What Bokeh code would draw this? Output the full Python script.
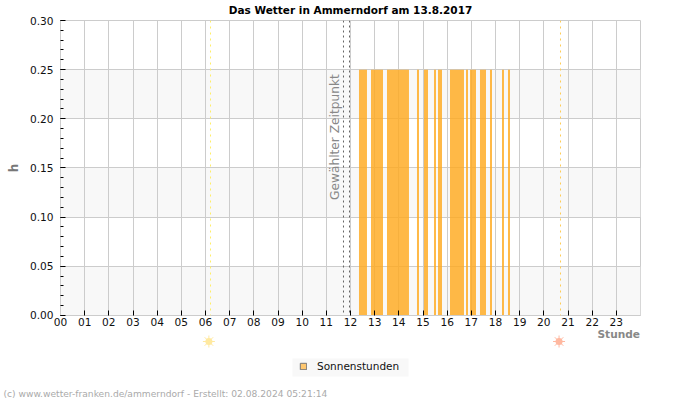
from bokeh.embed import file_html
from bokeh.layouts import column, row
from bokeh.resources import INLINE
from bokeh.plotting import figure
from bokeh.models import (ColumnDataSource, FixedTicker, Label, Legend, LegendItem,
                          Range1d, Span)

# Sonnenschein-Abschnitte in Dezimalstunden
sun_start = [12.351, 12.848, 13.510, 14.751, 15.041, 15.455, 15.620, 16.117, 16.779, 16.945, 17.358, 17.772, 18.269, 18.517]
sun_end = [12.682, 13.345, 14.420, 14.834, 15.207, 15.538, 15.786, 16.696, 16.862, 17.193, 17.607, 17.855, 18.351, 18.600]
sun_value = [0.25] * len(sun_start)

hours = list(range(24))
hour_labels = [f"{h:02d}" for h in hours]
y_ticks = [0.0, 0.05, 0.10, 0.15, 0.20, 0.25, 0.30]
y_minor = [round(i * 0.01, 2) for i in range(31)]

selected_time = [11.710, 11.959]
sunrise = 6.207
sunset = 20.690
sunrise_icon = 6.14
sunset_icon = 20.63

WIDTH = 700
HEAD_HEIGHT = 14
MAIN_HEIGHT = 316
FOOT_HEIGHT = 76
FOOT_OVERLAP = 6
px_per_hour = 580 / 24


def plain_panel(height, x_range):
    """Leere Zeichenfläche ohne Achsen für Kopf und Fuß."""
    panel = figure(width=WIDTH, height=height, output_backend="svg", toolbar_location=None,
                   x_range=x_range, y_range=Range1d(0, height),
                   x_axis_type=None, y_axis_type=None, outline_line_color=None,
                   min_border_left=0, min_border_right=0, min_border_top=0, min_border_bottom=0,
                   background_fill_color=None, border_fill_color=None)
    panel.grid.visible = False
    return panel


def px(x):
    """Waagerechte Pixelposition in Stunden der Fußleiste."""
    return (x - 60) / px_per_hour


# Kopfzeile mit Titel
head = plain_panel(HEAD_HEIGHT, Range1d(px(0), px(WIDTH)))
head.add_layout(Label(x=px(350), y=5, text="Das Wetter in Ammerndorf am 13.8.2017",
                      text_align="center", text_baseline="middle", text_font="DejaVu Sans",
                      text_font_style="bold", text_font_size="10.5px", text_color="black"))

# Hauptdiagramm
p = figure(width=WIDTH, height=MAIN_HEIGHT, output_backend="svg", toolbar_location=None,
           x_range=Range1d(0, 24), y_range=Range1d(-0.00001, 0.30),
           min_border_left=60, min_border_right=60, min_border_top=6, min_border_bottom=15,
           background_fill_color="white", border_fill_color="white",
           outline_line_color="#cccccc", outline_line_width=1)

p.xaxis.ticker = FixedTicker(ticks=hours)
p.xaxis.major_label_overrides = {h: s for h, s in zip(hours, hour_labels)}
p.yaxis.ticker = FixedTicker(ticks=y_ticks, minor_ticks=y_minor)
p.yaxis.major_label_overrides = {v: f"{v:.2f}" for v in y_ticks}
for ax in (p.xaxis[0], p.yaxis[0]):
    ax.axis_line_color = "#cccccc"
    ax.major_tick_line_color = "black"
    ax.major_tick_in = 5
    ax.major_tick_out = 0
    ax.major_label_text_font = "DejaVu Sans"
    ax.major_label_text_font_size = "10.6px"
    ax.major_label_text_color = "#111111"
p.xaxis.minor_tick_line_color = None
p.xaxis.major_label_standoff = 2
p.yaxis.minor_tick_line_color = "black"
p.yaxis.minor_tick_in = 3
p.yaxis.minor_tick_out = 0
p.yaxis.major_label_standoff = 7
p.yaxis.axis_label = "h"
p.yaxis.axis_label_text_font = "DejaVu Sans"
p.yaxis.axis_label_text_font_style = "bold"
p.yaxis.axis_label_text_font_size = "12px"
p.yaxis.axis_label_text_color = "#777777"
p.yaxis.axis_label_standoff = 6

# Raster mit abwechselnden Bändern
p.xgrid.grid_line_color = "#cccccc"
p.ygrid.grid_line_color = "#cccccc"
p.ygrid.band_fill_color = "#f8f8f8"
p.ygrid.band_fill_alpha = 1.0
p.ygrid.level = "image"

src = ColumnDataSource(dict(left=sun_start, right=sun_end, top=sun_value, bottom=[0.0] * len(sun_start)))
p.quad(left="left", right="right", top="top", bottom="bottom", source=src,
       fill_color="#ffaa1e", fill_alpha=0.82, line_color=None)

# Gewählter Zeitpunkt
for t in selected_time:
    p.add_layout(Span(location=t, dimension="height", line_color="#666666",
                      line_dash="2 3", line_width=1))
p.add_layout(Label(x=11.35, y=0.1175, text="Gewählter Zeitpunkt", angle=1.5708,
                   text_font="DejaVu Sans", text_font_size="12.2px", text_color="#888888",
                   text_baseline="middle"))

# Sonnenaufgang und -untergang
p.add_layout(Span(location=sunrise, dimension="height", line_color="#ffee66", line_dash="2 4", line_width=1))
p.add_layout(Span(location=sunset, dimension="height", line_color="#ffcc55", line_dash="2 4", line_width=1))

# Fußbereich: Symbole, Legende, Achsentitel und Hinweiszeile
foot = plain_panel(FOOT_HEIGHT, Range1d(px(0), px(WIDTH)))

for x, col in ((sunrise_icon, "#ffe9a0"), (sunset_icon, "#ffb8a0")):
    foot.scatter([x], [59], marker="asterisk", size=12, line_color=col, line_width=1)
    foot.scatter([x], [59], marker="circle", size=7, fill_color=col, line_color=None)

# Hintergrund der Legende
foot.quad(left=[px(292)], right=[px(408)], top=[42], bottom=[24], fill_color="#f8f8f8", line_color=None)

# Eintrag nur für die Legende, liegt außerhalb des sichtbaren Bereichs
key = foot.quad(left=[-100], right=[-99], top=[-100], bottom=[-101], fill_color="#ffc870",
                line_color="#777777", line_width=1)
legend = Legend(items=[LegendItem(label="Sonnenstunden", renderers=[key])],
                location=(299, 28), orientation="horizontal",
                background_fill_color=None, border_line_color=None,
                glyph_width=8, glyph_height=8,
                label_text_font="DejaVu Sans", label_text_font_size="10.5px",
                label_text_color="#111111", margin=0, padding=5, spacing=0,
                label_standoff=10, label_height=8)
foot.add_layout(legend, "center")

foot.add_layout(Label(x=px(639.5), y=66.5, text="Stunde", text_align="right", text_baseline="middle",
                      text_font="DejaVu Sans", text_font_style="bold", text_font_size="10.6px",
                      text_color="#888888"))
foot.add_layout(Label(x=px(3), y=7,
                      text="(c) www.wetter-franken.de/ammerndorf - Erstellt: 02.08.2024 05:21:14",
                      text_align="left", text_baseline="middle", text_font="DejaVu Sans",
                      text_font_size="9.15px", text_color="#aaaaaa"))

# Die Fußleiste überlappt den unteren Rand des Hauptdiagramms
foot_row = row(foot)
foot_row.margin = (-FOOT_OVERLAP, 0, 0, 0)

open("out.html", "w").write(file_html(column(row(head), p, foot_row, spacing=0), INLINE))
